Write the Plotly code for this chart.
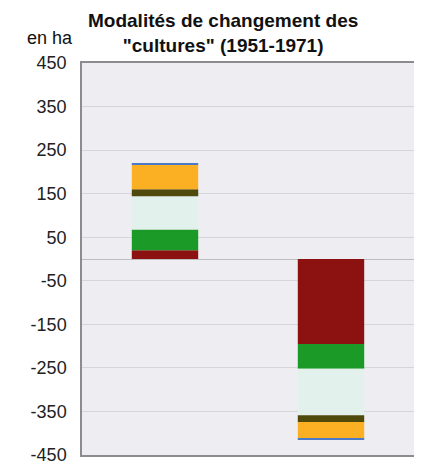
import plotly.graph_objects as go

# categories (x) : gains / pertes
categories = ["Gains", "Pertes"]

# series, stacked from zero outward
series_names = ["Série 1", "Série 2", "Série 3", "Série 4", "Série 5", "Série 6"]
series_values = [
    [20, -195],   # rouge foncé
    [48, -57],    # vert
    [76, -107],   # vert très pâle
    [16, -15],    # olive
    [57, -37],    # orange
    [2, -3],      # bleu
]
series_colors = ["#8C1212", "#1C9A28", "#E3F1EC", "#4F4A0C", "#FBB024", "#4A7BC8"]

y_ticks = [450, 350, 250, 150, 50, -50, -150, -250, -350, -450]
y_ticktext = ["450", "350", "250", "150", "50", "-50", "-150", "-250", "-350", "-450"]

fig = go.Figure()
for name, vals, col in zip(series_names, series_values, series_colors):
    fig.add_trace(go.Bar(
        x=categories,
        y=vals,
        name=name,
        width=0.4,
        marker={"color": col, "line": {"width": 0}},
    ))

# la page ajoute 8px de marge autour du graphique
fig.update_layout(
    width=414,
    height=464,
    barmode="relative",
    showlegend=False,
    margin={"l": 74, "r": 8, "t": 55, "b": 17, "autoexpand": False},
    font={"family": "Liberation Sans, Arial, sans-serif", "color": "#111111"},
    paper_bgcolor="white",
    plot_bgcolor="#EEEEF2",
    xaxis={
        "showticklabels": False,
        "showgrid": False,
        "showline": True,
        "mirror": True,
        "linecolor": "#8C8C90",
        "linewidth": 1.5,
        "range": [-0.5, 1.5],
    },
    yaxis={
        "range": [-450, 450],
        "tickvals": y_ticks,
        "ticktext": y_ticktext,
        "tickfont": {"size": 18, "color": "#222222"},
        "ticklabelstandoff": 10,
        "showgrid": True,
        "gridcolor": "#D6D6DA",
        "gridwidth": 1,
        "zeroline": True,
        "zerolinecolor": "#BDBDC1",
        "zerolinewidth": 1,
        "showline": True,
        "mirror": True,
        "linecolor": "#8C8C90",
        "linewidth": 1.5,
    },
    annotations=[
        {
            "text": "<b>Modalités de changement des<br>\"cultures\" (1951-1971)</b>",
            "xref": "paper",
            "yref": "paper",
            "x": 0.425,
            "y": 1.013,
            "xanchor": "center",
            "yanchor": "bottom",
            "align": "center",
            "showarrow": False,
            "font": {"size": 19, "color": "#111111"},
        },
        {
            "text": "en ha",
            "xref": "paper",
            "yref": "paper",
            "x": -0.021,
            "y": 1.033,
            "xanchor": "right",
            "yanchor": "bottom",
            "showarrow": False,
            "font": {"size": 18, "color": "#111111"},
        },
    ],
)

fig.write_html("out.html")
